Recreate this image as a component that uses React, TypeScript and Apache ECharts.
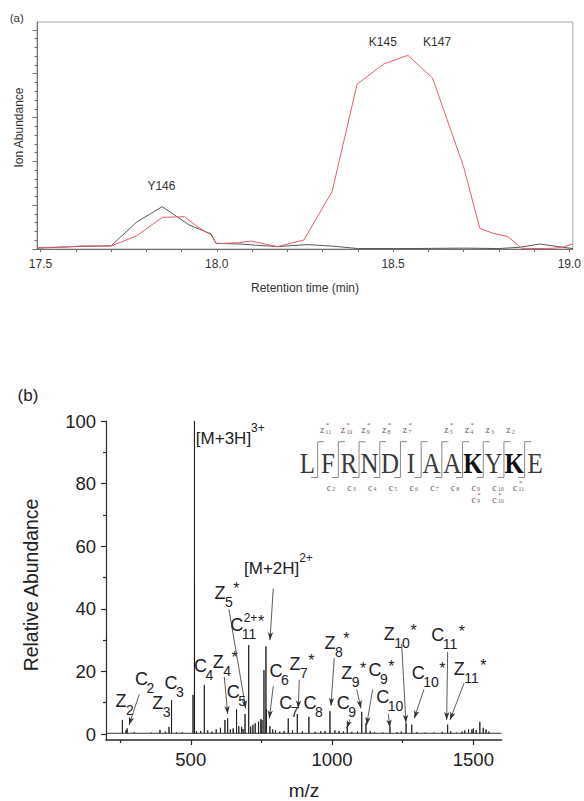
import React, { useEffect, useRef } from 'react';
import * as echarts from 'echarts';

const FONT = '"Liberation Sans", Arial, Helvetica, sans-serif';
const SERIF = '"Liberation Serif", "Times New Roman", Times, serif';

// ---------- Panel (a): extracted ion chromatograms ----------
const rtTickValues = [17.5, 17.6, 17.7, 17.8, 17.9, 18.0, 18.1, 18.2, 18.3, 18.4, 18.5, 18.6, 18.7, 18.8, 18.9, 19.0];
const rtLabelValues = [17.5, 18.0, 18.5, 19.0];
const ionMinorTicks = [0, 1, 2, 3, 4, 5, 6, 7, 8, 9, 10, 11, 12, 13, 14, 15, 16, 17, 18, 19, 20, 21, 22, 23, 24, 25];
const ionMajorTicks = [0, 5, 10, 15, 20, 25];

const redTime = [17.49, 17.55, 17.62, 17.70, 17.772, 17.845, 17.908, 17.95, 17.984, 17.998, 18.064, 18.097, 18.172, 18.247, 18.327, 18.398, 18.473, 18.542, 18.612, 18.70, 18.746, 18.784, 18.826, 18.864, 18.93, 18.96, 18.986, 19.01];
const redAbund = [0.15, 0.2, 0.35, 0.35, 1.48, 3.61, 3.69, 2.4, 1.6, 0.6, 0.72, 0.91, 0.27, 1.03, 6.54, 18.8, 21.1, 22.1, 19.5, 9.4, 2.36, 1.79, 1.41, 0.08, 0.05, 0.1, 0.27, 0.57];

const grayTime = [17.49, 17.55, 17.62, 17.70, 17.772, 17.845, 17.922, 17.984, 17.998, 18.064, 18.172, 18.256, 18.326, 18.40, 18.55, 18.70, 18.80, 18.86, 18.916, 18.968, 19.01];
const grayAbund = [0.1, 0.2, 0.3, 0.35, 3.05, 4.83, 2.74, 1.71, 0.65, 0.57, 0.27, 0.5, 0.34, 0.05, 0.05, 0.1, 0.05, 0.2, 0.57, 0.27, 0.05];

const peakTags = [
  { text: 'Y146', t: 17.843, v: 7.2 },
  { text: 'K145', t: 18.471, v: 23.6 },
  { text: 'K147', t: 18.625, v: 23.6 },
];

// ---------- Panel (b): ETD spectrum ----------
const mzMajorTicks = [500, 1000, 1500];
const mzMinorTicks = [250, 750, 1250];
const relMajorTicks = [0, 20, 40, 60, 80, 100];
const relMinorTicks = [10, 30, 50, 70, 90];

const peakMz = [258, 271, 275, 300, 330, 360, 391, 410, 423, 432, 450, 470, 508, 513, 513.4, 520, 535, 548, 560, 575, 590, 605, 621, 630.5, 640, 650, 662, 670, 680, 685, 692, 705, 712, 720, 728, 740, 748, 752, 759, 766, 768, 780, 790, 800, 815, 830, 845, 860, 877, 895, 918, 940, 960, 975, 992.6, 1010, 1025, 1040, 1054, 1070, 1090, 1105, 1120, 1135, 1150, 1180, 1205, 1230, 1245, 1262, 1282, 1300, 1330, 1360, 1390, 1409, 1420, 1440, 1460, 1470, 1483, 1495, 1500, 1510, 1523, 1535, 1545, 1555];
const peakHeight = [4.5, 1.3, 1.8, 0.6, 0.4, 0.5, 1.3, 0.8, 2.3, 10.9, 0.5, 0.6, 12.5, 100, 48, 0.9, 1.0, 15.7, 1.2, 0.8, 1.5, 2.0, 4.5, 5.0, 1.5, 1.8, 7.9, 2.5, 2.3, 1.6, 6.4, 28.4, 2.4, 3.0, 3.5, 4.0, 4.8, 4.5, 20.4, 28, 8, 2.5, 1.5, 1.2, 0.8, 1.0, 5.0, 1.2, 6.4, 0.9, 5.5, 0.7, 0.9, 1.0, 7.3, 1.2, 1.0, 0.8, 2.1, 0.7, 0.8, 7.1, 3.5, 0.9, 0.6, 0.5, 2.2, 0.6, 0.8, 3.5, 3.0, 0.6, 0.5, 0.5, 0.7, 3.0, 0.9, 0.5, 0.8, 1.2, 1.5, 1.5, 1.8, 1.3, 3.9, 2.0, 1.5, 0.8];
const baselineLevel = 0.25;

// fragment annotations (anchored in m/z, abundance)
const fragLabels = [
  { base: 'Z', sub: '2', mz: 253, ab: 10.5 },
  { base: 'C', sub: '2', mz: 326, ab: 17.5 },
  { base: 'Z', sub: '3', mz: 383, ab: 9.8 },
  { base: 'C', sub: '3', mz: 430, ab: 16.4 },
  { base: 'C', sub: '4', mz: 534, ab: 21.7 },
  { base: 'Z', sub: '4', star: true, mz: 597, ab: 23.1 },
  { base: 'Z', sub: '5', star: true, mz: 603, ab: 45.1 },
  { base: 'C', sub: '11', sup: '2+', star: true, mz: 662.5, ab: 34.8 },
  { base: 'C', sub: '5', mz: 650.5, ab: 13.5 },
  { base: 'C', sub: '6', mz: 801.6, ab: 20.1 },
  { base: 'Z', sub: '7', star: true, mz: 868.8, ab: 22.3 },
  { base: 'C', sub: '7', mz: 836, ab: 10 },
  { base: 'C', sub: '8', mz: 922, ab: 9.8 },
  { base: 'Z', sub: '8', star: true, mz: 992.6, ab: 29.2 },
  { base: 'C', sub: '9', mz: 1039.7, ab: 9.8 },
  { base: 'Z', sub: '9', star: true, mz: 1051.7, ab: 19.6 },
  { base: 'C', sub: '9', star: true, mz: 1152, ab: 20.4 },
  { base: 'C', sub: '10', mz: 1179, ab: 11.9 },
  { base: 'Z', sub: '10', star: true, mz: 1202.5, ab: 31.9 },
  { base: 'C', sub: '10', star: true, mz: 1305, ab: 19.6 },
  { base: 'C', sub: '11', star: true, mz: 1373.7, ab: 31.6 },
  { base: 'Z', sub: '11', star: true, mz: 1450, ab: 20.7 },
];
const ionLabels = [
  { text: '[M+3H]', sup: '3+', mz: 615.8, ab: 94.5 },
  { text: '[M+2H]', sup: '2+', mz: 786.4, ab: 52.9 },
];
const arrows = [
  { from: [317.8, 12.7], to: [281.4, 2.9] },
  { from: [618.6, 18.3], to: [630.6, 6.4] },
  { from: [635.2, 39.8], to: [694.3, 8.2] },
  { from: [792, 46.5], to: [780.3, 30] },
  { from: [792, 15.3], to: [777.9, 5] },
  { from: [884, 17.3], to: [880.5, 8.2] },
  { from: [1007.8, 24.2], to: [996.2, 9] },
  { from: [1063.4, 4.7], to: [1051.7, 1.8] },
  { from: [1087.1, 14.3], to: [1102.3, 8.2] },
  { from: [1143.7, 14.3], to: [1122.5, 2.9] },
  { from: [1198.9, 6.4], to: [1204.9, 2.1] },
  { from: [1246.3, 28.8], to: [1261.6, 3.6] },
  { from: [1325.3, 14.3], to: [1291, 5] },
  { from: [1409.1, 26.3], to: [1405.6, 4.5] },
  { from: [1466.8, 16.2], to: [1417.3, 4.5] },
];

// peptide sequence map
const sequence = ['L', 'F', 'R', 'N', 'D', 'I', 'A', 'A', 'K', 'Y', 'K', 'E'];
const boldResidues = [8, 10];
const zTop = [
  { gap: 0, n: '11', star: true }, { gap: 1, n: '10', star: true }, { gap: 2, n: '9', star: true },
  { gap: 3, n: '8', star: true }, { gap: 4, n: '7', star: true }, { gap: 6, n: '5', star: true },
  { gap: 7, n: '4', star: true }, { gap: 8, n: '3', star: false }, { gap: 9, n: '2', star: false },
];
const cBottom = [
  { gap: 1, n: '2', star: false }, { gap: 2, n: '3', star: false }, { gap: 3, n: '4', star: false },
  { gap: 4, n: '5', star: false }, { gap: 5, n: '6', star: false }, { gap: 6, n: '7', star: false },
  { gap: 7, n: '8', star: false }, { gap: 8, n: '9', star: false }, { gap: 9, n: '10', star: false },
  { gap: 10, n: '11', star: true },
];
const cBottom2 = [{ gap: 8, n: '9', star: true }, { gap: 9, n: '10', star: true }];

function txt(x: number, y: number, text: string, size: number, o: any = {}) {
  return {
    type: 'text', x, y, silent: true,
    rotation: o.rotation || 0,
    scaleX: o.scaleX || 1,
    style: {
      text,
      font: `${o.weight || 'normal'} ${size}px ${o.family || FONT}`,
      fill: o.color || '#222',
      textAlign: o.align || 'center',
      textVerticalAlign: o.valign || 'middle',
    },
  };
}

export default function App() {
  const ref = useRef<HTMLDivElement>(null);
  useEffect(() => {
    document.body.style.margin = '0';
    const chart = echarts.init(ref.current!, null, { renderer: 'svg', width: 584, height: 801 });

    const sortedIdx = peakMz.map((_, i) => i).sort((a, b) => peakMz[a] - peakMz[b]);
    const spectrum: number[][] = [[200, baselineLevel]];
    sortedIdx.forEach((i) => {
      spectrum.push([peakMz[i], baselineLevel], [peakMz[i], peakHeight[i]], [peakMz[i], baselineLevel]);
    });
    spectrum.push([1600, baselineLevel]);

    const axisA = '#707070';
    const axisB = '#2a2a2a';
    const plain = (v: number) => String(v);

    const option: any = {
      animation: false,
      backgroundColor: '#ffffff',
      grid: [
        { left: 37, top: 22, width: 538, height: 227, show: true, borderColor: '#a8a8a8', borderWidth: 1 },
        { left: 106, top: 421, width: 395.6, height: 319 },
      ],
      xAxis: [
        {
          gridIndex: 0, type: 'value', min: 17.49, max: 19.01, position: 'bottom',
          axisLine: { show: true, onZero: false, lineStyle: { color: axisA, width: 1 } },
          axisTick: { show: true, customValues: rtTickValues, length: 3, lineStyle: { color: axisA } },
          axisLabel: { show: true, customValues: rtLabelValues, formatter: (v: number) => v.toFixed(1), color: '#333', fontSize: 12, fontFamily: FONT, margin: 9 },
          splitLine: { show: false },
        },
        {
          gridIndex: 1, type: 'value', min: 200, max: 1600, position: 'bottom',
          axisLine: { show: true, onZero: false, lineStyle: { color: axisB, width: 1.5 } },
          axisTick: { show: true, customValues: mzMajorTicks, length: 5, lineStyle: { color: axisB, width: 1.2 } },
          axisLabel: { show: true, customValues: mzMajorTicks, formatter: plain, color: '#222', fontSize: 18.5, fontFamily: FONT, margin: 10 },
          splitLine: { show: false },
        },
        {
          gridIndex: 1, type: 'value', min: 200, max: 1600, position: 'bottom',
          axisLine: { show: false, onZero: false },
          axisTick: { show: true, customValues: mzMinorTicks, length: 3, lineStyle: { color: axisB, width: 1.2 } },
          axisLabel: { show: false },
          splitLine: { show: false },
        },
      ],
      yAxis: [
        {
          gridIndex: 0, type: 'value', min: 0, max: 25.9, position: 'left',
          axisLine: { show: true, onZero: false, lineStyle: { color: axisA, width: 1 } },
          axisTick: { show: true, customValues: ionMinorTicks, length: 2.5, lineStyle: { color: axisA } },
          axisLabel: { show: false },
          splitLine: { show: false },
        },
        {
          gridIndex: 0, type: 'value', min: 0, max: 25.9, position: 'left',
          axisLine: { show: false, onZero: false },
          axisTick: { show: true, customValues: ionMajorTicks, length: 4.5, lineStyle: { color: axisA } },
          axisLabel: { show: false },
          splitLine: { show: false },
        },
        {
          gridIndex: 1, type: 'value', min: -1.9, max: 100, position: 'left',
          axisLine: { show: true, onZero: false, lineStyle: { color: axisB, width: 1.2 } },
          axisTick: { show: true, customValues: relMajorTicks, length: 5, lineStyle: { color: axisB, width: 1.2 } },
          axisLabel: { show: true, customValues: relMajorTicks, formatter: plain, color: '#222', fontSize: 18.5, fontFamily: FONT, margin: 10 },
          splitLine: { show: false },
        },
        {
          gridIndex: 1, type: 'value', min: -1.9, max: 100, position: 'left',
          axisLine: { show: false, onZero: false },
          axisTick: { show: true, customValues: relMinorTicks, length: 3, lineStyle: { color: axisB, width: 1.2 } },
          axisLabel: { show: false },
          splitLine: { show: false },
        },
      ],
      series: [
        {
          type: 'line', xAxisIndex: 0, yAxisIndex: 0, symbol: 'none', silent: true,
          data: grayTime.map((t, i) => [t, grayAbund[i]]),
          lineStyle: { color: '#585858', width: 1 }, z: 2,
        },
        {
          type: 'line', xAxisIndex: 0, yAxisIndex: 0, symbol: 'none', silent: true,
          data: redTime.map((t, i) => [t, redAbund[i]]),
          lineStyle: { color: '#ee5a68', width: 1 }, z: 3,
        },
        {
          type: 'line', xAxisIndex: 1, yAxisIndex: 2, symbol: 'none', silent: true,
          data: spectrum,
          lineStyle: { color: '#1e1e1e', width: 0.9 },
          markLine: {
            silent: true, animation: false,
            symbol: ['none', 'arrow'], symbolSize: [4, 8],
            label: { show: false },
            lineStyle: { color: '#333', width: 0.8, type: 'solid' },
            emphasis: { disabled: true },
            data: arrows.map((a) => [{ coord: a.from }, { coord: a.to }]),
          },
        },
      ],
    };
    chart.setOption(option);

    const g: any[] = [];
    // static texts
    g.push(txt(16.7, 18.3, '(a)', 11.5, { color: '#333' }));
    g.push(txt(18.5, 127.5, 'Ion Abundance', 12, { rotation: Math.PI / 2, color: '#333' }));
    g.push(txt(305, 288, 'Retention time (min)', 12, { color: '#333' }));
    g.push(txt(28, 395, '(b)', 17, { color: '#222' }));
    g.push(txt(31, 585, 'Relative Abundance', 19.4, { rotation: Math.PI / 2, color: '#222' }));
    g.push(txt(304, 790, 'm/z', 19, { color: '#222' }));

    // chromatogram peak tags
    peakTags.forEach((p) => {
      const [x, y] = chart.convertToPixel({ seriesIndex: 1 }, [p.t, p.v]) as number[];
      g.push(txt(x, y, p.text, 12, { color: '#333' }));
    });

    // fragment labels
    fragLabels.forEach((f: any) => {
      const [x, y] = chart.convertToPixel({ seriesIndex: 2 }, [f.mz, f.ab]) as number[];
      g.push(txt(x, y, f.base, 18, { color: '#222' }));
      const subLeft = x + 5;
      g.push(txt(subLeft, y + 9, f.sub, 14, { align: 'left', color: '#222' }));
      let right = subLeft + f.sub.length * 7.8;
      if (f.sup) {
        g.push(txt(x + 7, y - 7, f.sup, 12, { align: 'left', color: '#222' }));
        right = Math.max(right, x + 7 + 13.7);
      }
      if (f.star) {
        g.push(txt(right + 0.5, y - 4, '*', 16, { align: 'left', color: '#222' }));
      }
    });
    ionLabels.forEach((m) => {
      const [x, y] = chart.convertToPixel({ seriesIndex: 2 }, [m.mz, m.ab]) as number[];
      g.push(txt(x, y, m.text, 17, { color: '#222' }));
      g.push(txt(x + 27.5, y - 10, m.sup, 12, { align: 'left', color: '#222' }));
    });

    // peptide fragmentation map
    const seqX0 = 307.3;
    const seqStep = 20.7;
    const seqY = 463.3;
    sequence.forEach((s, i) => {
      const bold = boldResidues.indexOf(i) >= 0;
      g.push(txt(seqX0 + seqStep * i, seqY, s, 29, { family: SERIF, weight: bold ? 'bold' : 'normal', color: bold ? '#111' : '#3a3a3a', scaleX: 0.86 }));
    });
    const bracketColor = '#8a8a8a';
    for (let k = 0; k < sequence.length - 1; k++) {
      const gx = seqX0 + seqStep * (k + 0.5);
      const yT = 441.7;
      const yB = 477.5;
      g.push({ type: 'polyline', silent: true, shape: { points: [[gx + 6.5, yT], [gx, yT], [gx, yB], [gx - 6.5, yB]] }, style: { stroke: bracketColor, lineWidth: 1, fill: 'none' } });
    }
    const smallColor = '#7d5c66';
    const smallLabel = (cx: number, cy: number, letter: string, n: string, star: boolean) => {
      g.push(txt(cx - 2.5, cy, letter, 10, { family: SERIF, color: smallColor }));
      g.push(txt(cx + 0.8, cy + 2.2, n, 6, { family: SERIF, align: 'left', color: smallColor }));
      if (star) g.push(txt(cx + 1, cy - 4.2, '*', 7, { family: SERIF, align: 'left', color: smallColor }));
    };
    zTop.forEach((z) => smallLabel(seqX0 + seqStep * (z.gap + 0.5) + 7, 429.5, 'z', z.n, z.star));
    cBottom.forEach((c) => smallLabel(seqX0 + seqStep * (c.gap + 0.5) - 7, 487, 'c', c.n, c.star));
    cBottom2.forEach((c) => smallLabel(seqX0 + seqStep * (c.gap + 0.5) - 7, 499, 'c', c.n, c.star));

    chart.setOption({ graphic: g });
    return () => chart.dispose();
  }, []);
  return <div ref={ref} style={{ width: 584, height: 801, position: 'absolute', left: 0, top: 0 }} />;
}
